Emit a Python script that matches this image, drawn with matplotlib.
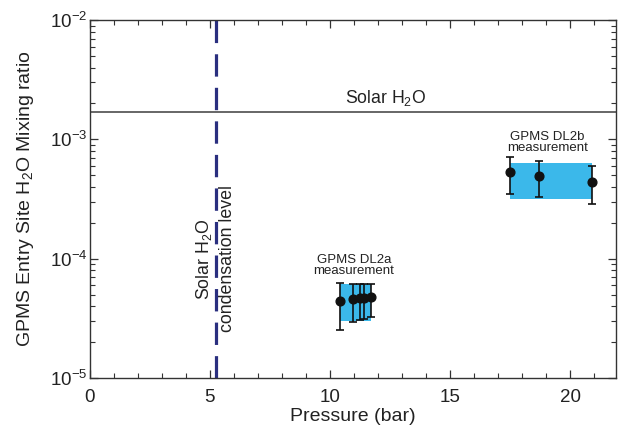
import matplotlib
matplotlib.use("Agg")
import matplotlib.pyplot as plt
from matplotlib.patches import Rectangle
from matplotlib.ticker import MultipleLocator, LogLocator, NullFormatter

plt.rcParams['font.family'] = ['Liberation Sans', 'DejaVu Sans']
plt.rcParams['mathtext.fontset'] = 'custom'
plt.rcParams['mathtext.rm'] = 'Liberation Sans'
plt.rcParams['mathtext.it'] = 'Liberation Sans:italic'
plt.rcParams['mathtext.bf'] = 'Liberation Sans:bold'

# Data
solar_h2o = 1.7e-3
condensation_p = 5.24

dl2a_p = [10.4, 10.95, 11.25, 11.4, 11.7]
dl2a_val = [4.45e-5, 4.6e-5, 4.65e-5, 4.7e-5, 4.75e-5]
dl2a_hi = [6.3e-5, 6.1e-5, 6.1e-5, 6.1e-5, 6.1e-5]
dl2a_lo = [2.5e-5, 2.95e-5, 3.05e-5, 3.1e-5, 3.25e-5]
dl2a_box = (10.4, 11.7, 3.0e-5, 6.1e-5)

dl2b_p = [17.5, 18.7, 20.9]
dl2b_val = [5.3e-4, 4.95e-4, 4.4e-4]
dl2b_hi = [7.1e-4, 6.6e-4, 6.0e-4]
dl2b_lo = [3.5e-4, 3.3e-4, 2.9e-4]
dl2b_box = (17.5, 20.9, 3.15e-4, 6.3e-4)

xticks = [0, 5, 10, 15, 20]
yticks = [1e-5, 1e-4, 1e-3, 1e-2]
ytick_labels = ['10$^{-5}$', '10$^{-4}$', '10$^{-3}$', '10$^{-2}$']

fig = plt.figure(figsize=(6.2, 4.28), dpi=100)
ax = fig.add_axes([0.145, 0.117, 0.848, 0.836])

ax.set_xlim(0, 21.9)
ax.set_yscale('log')
ax.set_ylim(1e-5, 1e-2)

box_color = '#3BB8EA'
for (x0, x1, y0, y1) in [dl2a_box, dl2b_box]:
    ax.add_patch(Rectangle((x0, y0), x1 - x0, y1 - y0, facecolor=box_color,
                           edgecolor='none', zorder=1))

for p, v, hi, lo in [(dl2a_p, dl2a_val, dl2a_hi, dl2a_lo), (dl2b_p, dl2b_val, dl2b_hi, dl2b_lo)]:
    yerr = [[vv - l for vv, l in zip(v, lo)], [h - vv for vv, h in zip(v, hi)]]
    ax.errorbar(p, v, yerr=yerr, fmt='o', color='#111111', ms=6.3, capsize=3,
                elinewidth=1.2, capthick=1.2, zorder=3)

ax.axhline(solar_h2o, color='#666666', lw=1.4, zorder=2)
ax.axvline(condensation_p, color='#2A2F7F', lw=2.3, dashes=(7, 3.5), zorder=2)

ax.text(12.3, solar_h2o * 1.07, 'Solar H$_2$O', ha='center', va='bottom', fontsize=12.7, color='#222222')
ax.text(condensation_p - 0.02, 1.0e-4, 'Solar H$_2$O\ncondensation level', rotation=90, ha='center',
        va='center', fontsize=12.8, color='#222222', linespacing=1.38)
ax.text(11.0, 7.0e-5, 'GPMS DL2a\nmeasurement', ha='center', va='bottom', fontsize=9.5,
        color='#222222', linespacing=0.9)
ax.text(19.05, 7.6e-4, 'GPMS DL2b\nmeasurement', ha='center', va='bottom', fontsize=9.5,
        color='#222222', linespacing=0.9)

ax.set_xticks(xticks)
ax.set_xticklabels([str(t) for t in xticks])
ax.xaxis.set_minor_locator(MultipleLocator(1))
ax.yaxis.set_minor_locator(LogLocator(base=10, subs=range(2, 10), numticks=20))
ax.yaxis.set_minor_formatter(NullFormatter())
ax.set_yticks(yticks)
ax.set_yticklabels(ytick_labels)

ax.tick_params(which='both', direction='in', top=True, right=True, colors='#333333',
               labelcolor='#222222', labelsize=13.5)
ax.tick_params(which='major', length=6, width=0.9)
ax.tick_params(which='minor', length=3.5, width=0.8)
ax.tick_params(axis='x', which='major', pad=8)
ax.tick_params(axis='y', which='major', pad=2)
for s in ax.spines.values():
    s.set_color('#333333')
    s.set_linewidth(1.0)

ax.set_xlabel('Pressure (bar)', fontsize=14, color='#222222')
ax.set_ylabel('GPMS Entry Site H$_2$O Mixing ratio', fontsize=14, color='#222222')
ax.xaxis.set_label_coords(0.5, -0.083)
ax.yaxis.set_label_coords(-0.103, 0.5)

fig.savefig('out.png', dpi=100)
